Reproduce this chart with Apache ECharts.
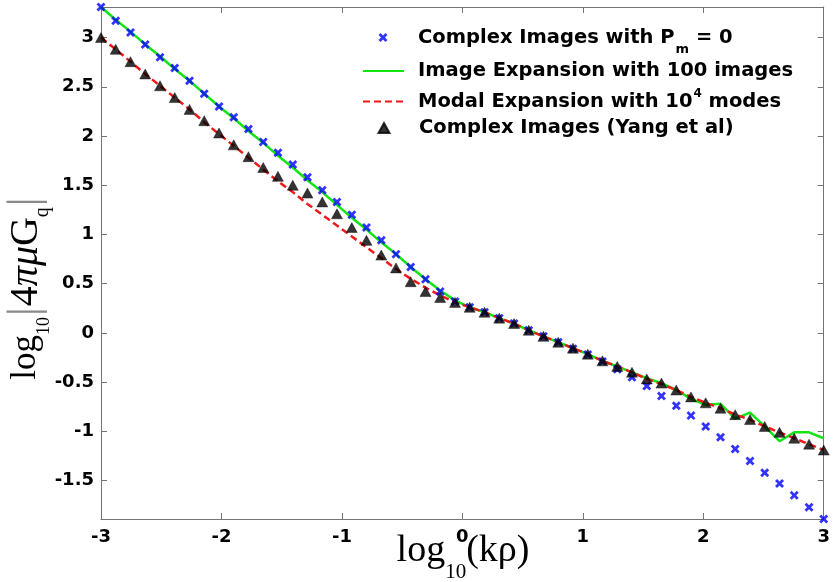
<!DOCTYPE html>
<html><head><meta charset="utf-8">
<script src="https://cdn.jsdelivr.net/npm/echarts@6/dist/echarts.min.js"></script>
<style>html,body{margin:0;padding:0;background:#fff}#c{width:833px;height:582px}</style>
</head><body><div id="c"></div><script>
// log10(k rho) sample points
const xValues = [-3.000,-2.878,-2.755,-2.633,-2.510,-2.388,-2.265,-2.143,-2.020,-1.898,
  -1.776,-1.653,-1.531,-1.408,-1.286,-1.163,-1.041,-0.918,-0.796,-0.673,
  -0.551,-0.429,-0.306,-0.184,-0.061,0.061,0.184,0.306,0.429,0.551,
  0.673,0.796,0.918,1.041,1.163,1.286,1.408,1.531,1.653,1.776,
  1.898,2.020,2.143,2.265,2.388,2.510,2.633,2.755,2.878,3.000];
// Complex Images with Pm = 0 (blue x)
const complexPm0 = [3.31,3.17,3.05,2.93,2.80,2.69,2.56,2.43,2.30,2.19,
  2.07,1.94,1.83,1.71,1.58,1.45,1.33,1.20,1.07,0.94,
  0.80,0.67,0.545,0.42,0.32,0.26,0.21,0.15,0.095,0.027,
  -0.035,-0.095,-0.16,-0.22,-0.29,-0.37,-0.45,-0.54,-0.64,-0.74,
  -0.84,-0.95,-1.06,-1.18,-1.30,-1.42,-1.53,-1.65,-1.77,-1.89];
// Image Expansion with 100 images (green solid)
const imageExp100 = [3.31,3.18,3.06,2.93,2.81,2.68,2.56,2.43,2.30,2.18,
  2.05,1.93,1.80,1.68,1.55,1.43,1.30,1.17,1.05,0.92,
  0.80,0.67,0.545,0.43,0.33,0.26,0.21,0.15,0.095,0.027,
  -0.035,-0.095,-0.155,-0.216,-0.284,-0.34,-0.40,-0.46,-0.51,-0.58,
  -0.67,-0.73,-0.72,-0.87,-0.81,-0.95,-1.10,-1.01,-1.01,-1.07];
// Modal Expansion with 10^4 modes (red dashed)
const modalExp1e4 = [3.00,2.88,2.755,2.63,2.51,2.39,2.27,2.14,2.02,1.90,
  1.78,1.66,1.54,1.43,1.31,1.20,1.09,0.98,0.87,0.76,
  0.65,0.55,0.46,0.38,0.31,0.26,0.21,0.15,0.095,0.027,
  -0.035,-0.095,-0.155,-0.216,-0.284,-0.34,-0.40,-0.467,-0.52,-0.58,
  -0.65,-0.71,-0.765,-0.83,-0.88,-0.95,-1.01,-1.07,-1.13,-1.19];
// Complex Images (Yang et al) (black triangles)
const complexYang = [3.00,2.88,2.755,2.63,2.51,2.39,2.27,2.155,2.03,1.91,
  1.79,1.68,1.59,1.50,1.42,1.33,1.21,1.07,0.94,0.79,
  0.66,0.52,0.42,0.36,0.31,0.26,0.21,0.15,0.095,0.027,
  -0.035,-0.095,-0.155,-0.216,-0.284,-0.34,-0.40,-0.467,-0.51,-0.58,
  -0.65,-0.71,-0.765,-0.83,-0.88,-0.95,-1.01,-1.07,-1.13,-1.19];
const yTickValues = [-1.5,-1,-0.5,0,0.5,1,1.5,2,2.5,3];
const seriesNames = ['Complex Images with Pm = 0','Image Expansion with 100 images',
  'Modal Expansion with 10^4 modes','Complex Images (Yang et al)'];

const pair = ys => xValues.map((x, i) => [x, ys[i]]);
const AX = '#747474';
const tickFont = {fontFamily: 'DejaVu Sans', fontWeight: 'bold', fontSize: 18, color: '#000'};
const xMarker = 'path://M0,2.2L2.2,0L5,2.8L7.8,0L10,2.2L7.2,5L10,7.8L7.8,10L5,7.2L2.2,10L0,7.8L2.8,5Z';

function xAx(pos, showLabel) {
  return {type: 'value', min: -3, max: 3, interval: 1, position: pos,
    axisLine: {show: true, onZero: false, lineStyle: {color: AX, width: 1}},
    axisTick: {show: true, inside: true, length: 6, lineStyle: {color: AX}},
    axisLabel: Object.assign({show: showLabel, margin: 9}, tickFont),
    splitLine: {show: false}};
}
function yAx(pos, showLabel) {
  return {type: 'value', min: -1.89, max: 3.31, position: pos,
    axisLine: {show: true, onZero: false, lineStyle: {color: AX, width: 1}},
    axisTick: {show: true, inside: true, length: 6, customValues: yTickValues, lineStyle: {color: AX}},
    axisLabel: Object.assign({show: showLabel, margin: 7, customValues: yTickValues}, tickFont),
    splitLine: {show: false}};
}

function legText(gap) {
  return {fontFamily: 'DejaVu Sans', fontWeight: 'bold', fontSize: 19.5, color: '#000', lineHeight: 22,
    rich: {
      g: {width: gap, fontSize: 19.5, lineHeight: 22},
      n: {fontFamily: 'DejaVu Sans', fontWeight: 'bold', fontSize: 19.5, lineHeight: 22, color: '#000'},
      sub: {fontFamily: 'DejaVu Sans', fontWeight: 'bold', fontSize: 13, lineHeight: 13, padding: [24, 0, 0, 1], color: '#000'},
      sup: {fontFamily: 'DejaVu Sans', fontWeight: 'bold', fontSize: 12, lineHeight: 12, padding: [0, 0, 15, 1], color: '#000'}
    }};
}
const legendFmt = name => {
  if (name === seriesNames[0]) return '{g| }{n|Complex Images with P}{sub|m}{n| = 0}';
  if (name === seriesNames[2]) return '{g| }{n|Modal Expansion with 10}{sup|4}{n| modes}';
  return '{g| }{n|' + name + '}';
};
const legCfg = [
  {left: 378.5, top: 19, w: 9, h: 9, gap: 25.5},
  {left: 362, top: 60, w: 41, h: 14, gap: 9},
  {left: 362, top: 88, w: 41, h: 14, gap: 9},
  {left: 377.5, top: 117, w: 11, h: 10, gap: 24.5}
];

const option = {
  animation: false,
  backgroundColor: '#fff',
  grid: {left: 101, right: 4, top: 7, bottom: 63, containLabel: false},
  xAxis: [xAx('bottom', true), xAx('top', false)],
  yAxis: [yAx('left', true), yAx('right', false)],
  legend: seriesNames.map((n, i) => {
    const c = legCfg[i];
    const lg = {data: [n], left: c.left, top: c.top, padding: 0, orient: 'horizontal',
      itemWidth: c.w, itemHeight: c.h, selectedMode: false,
      formatter: legendFmt, textStyle: legText(c.gap)};
    if (i === 1 || i === 2) lg.itemStyle = {color: 'rgba(0,0,0,0)', borderColor: 'rgba(0,0,0,0)', borderWidth: 0, opacity: 0};
    return lg;
  }),
  graphic: [
    {type: 'text', x: 463, y: 551, style: {
      text: '{t|log}{s|10}{t|(kρ)}', align: 'center', verticalAlign: 'middle',
      rich: {
        t: {fontFamily: 'Liberation Serif', fontSize: 38, lineHeight: 40, fill: '#000'},
        s: {fontFamily: 'Liberation Serif', fontSize: 21, lineHeight: 21, padding: [42, 0, 0, 0], fill: '#000'}
      }}},
    {type: 'text', x: 26, y: 288, rotation: Math.PI / 2, style: {
      text: '{t|log}{s|10}{b||}{u|4}{i|π}{i|μ}{u|G}{q|q}{b||}', align: 'center', verticalAlign: 'middle',
      rich: {
        t: {fontFamily: 'Liberation Serif', fontSize: 35, lineHeight: 38, fill: '#000'},
        u: {fontFamily: 'Liberation Serif', fontSize: 40, lineHeight: 42, fill: '#000'},
        i: {fontFamily: 'Liberation Serif', fontStyle: 'italic', fontSize: 40, lineHeight: 42, fill: '#000'},
        s: {fontFamily: 'Liberation Serif', fontSize: 18, lineHeight: 18, padding: [36, 0, 0, 0], fill: '#000'},
        q: {fontFamily: 'Liberation Serif', fontSize: 20, lineHeight: 20, padding: [34, 0, 0, 0], fill: '#000'},
        b: {fontFamily: 'Liberation Serif', fontSize: 44, lineHeight: 42, fill: '#8a8a8a', padding: [0, 1, 0, 1]}
      }}}
  ],
  series: [
    {name: seriesNames[1], type: 'line', data: pair(imageExp100), showSymbol: false, symbol: 'none',
      lineStyle: {color: '#12e612', width: 2.5}, itemStyle: {color: '#12e612'}, z: 2},
    {name: seriesNames[2], type: 'line', data: pair(modalExp1e4), showSymbol: false, symbol: 'none',
      lineStyle: {color: '#f01818', width: 2.5, type: [7, 4]}, itemStyle: {color: '#f01818'}, z: 3},
    {name: seriesNames[0], type: 'scatter', data: pair(complexPm0), symbol: xMarker, symbolSize: 9,
      itemStyle: {color: '#0000ff'}, clip: false, z: 4},
    {name: seriesNames[3], type: 'scatter', data: pair(complexYang), symbol: 'triangle', symbolSize: [11, 10],
      itemStyle: {color: '#000', borderColor: '#000', borderWidth: 0.5}, clip: false, z: 5}
  ]
};
const chart = echarts.init(document.getElementById('c'), null, {renderer: 'canvas'});
chart.setOption(option);
</script></body></html>
